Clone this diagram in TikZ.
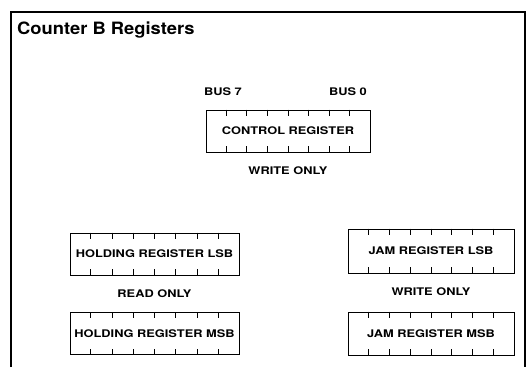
\documentclass[tikz,border=0pt]{standalone}
\usepackage{fontspec}
\newfontfamily\regfont{TeX Gyre Heros}[FakeStretch=1.22]
\newfontfamily\titlefont{TeX Gyre Heros}[FakeStretch=1.08]
\usetikzlibrary{calc,positioning}

\begin{document}
\begin{tikzpicture}[
    x=1pt,y=1pt,
    node distance=14pt,
    reg/.style={draw,line width=0.9pt,minimum height=42pt,inner sep=0pt,font=\regfont\bfseries\fontsize{10.5}{12}\selectfont},
    tag/.style={inner sep=0pt,font=\regfont\bfseries\fontsize{10.5}{12}\selectfont},
    tick/.style={line width=0.9pt},
    frame/.style={line width=1.6pt}
  ]
  \useasboundingbox (0,0) rectangle (529,367);
  \draw[frame] (11,0) -- (11,355) -- (525,355) -- (525,0);
  \node[anchor=base west,inner sep=0pt,font=\titlefont\bfseries\fontsize{17}{20}\selectfont] (title) at (17,332) {Counter B Registers};

  % control register
  \node[reg,minimum width=164pt] (ctrl) at (288,236) {CONTROL REGISTER};
  \node[tag] (bus7) at (223,275) {BUS 7};
  \node[tag] (bus0) at (348,275) {BUS 0};
  \node[tag,below=of ctrl] (ctrlwo) {WRITE ONLY};

  % holding registers
  \node[reg,minimum width=169pt] (holdlsb) at (154.5,113) {HOLDING REGISTER LSB};
  \node[tag,below=of holdlsb] (holdro) {READ ONLY};
  \node[reg,minimum width=169pt] (holdmsb) at (154.5,33.5) {HOLDING REGISTER MSB};

  % jam registers
  \node[reg,minimum width=166pt,minimum height=44pt] (jamlsb) at (431,116) {JAM REGISTER LSB};
  \node[tag,below=of jamlsb] (jamwo) {WRITE ONLY};
  \node[reg,minimum width=166pt,minimum height=43pt] (jammsb) at (431,33.5) {JAM REGISTER MSB};

  \foreach \r in {ctrl,holdlsb,holdmsb,jamlsb,jammsb}
    \foreach \i in {1,...,7} {
      \draw[tick] ($(\r.north west)!\i/8!(\r.north east)$) -- ++(0,-6);
      \draw[tick] ($(\r.south west)!\i/8!(\r.south east)$) -- ++(0,6);
    }
\end{tikzpicture}
\end{document}
